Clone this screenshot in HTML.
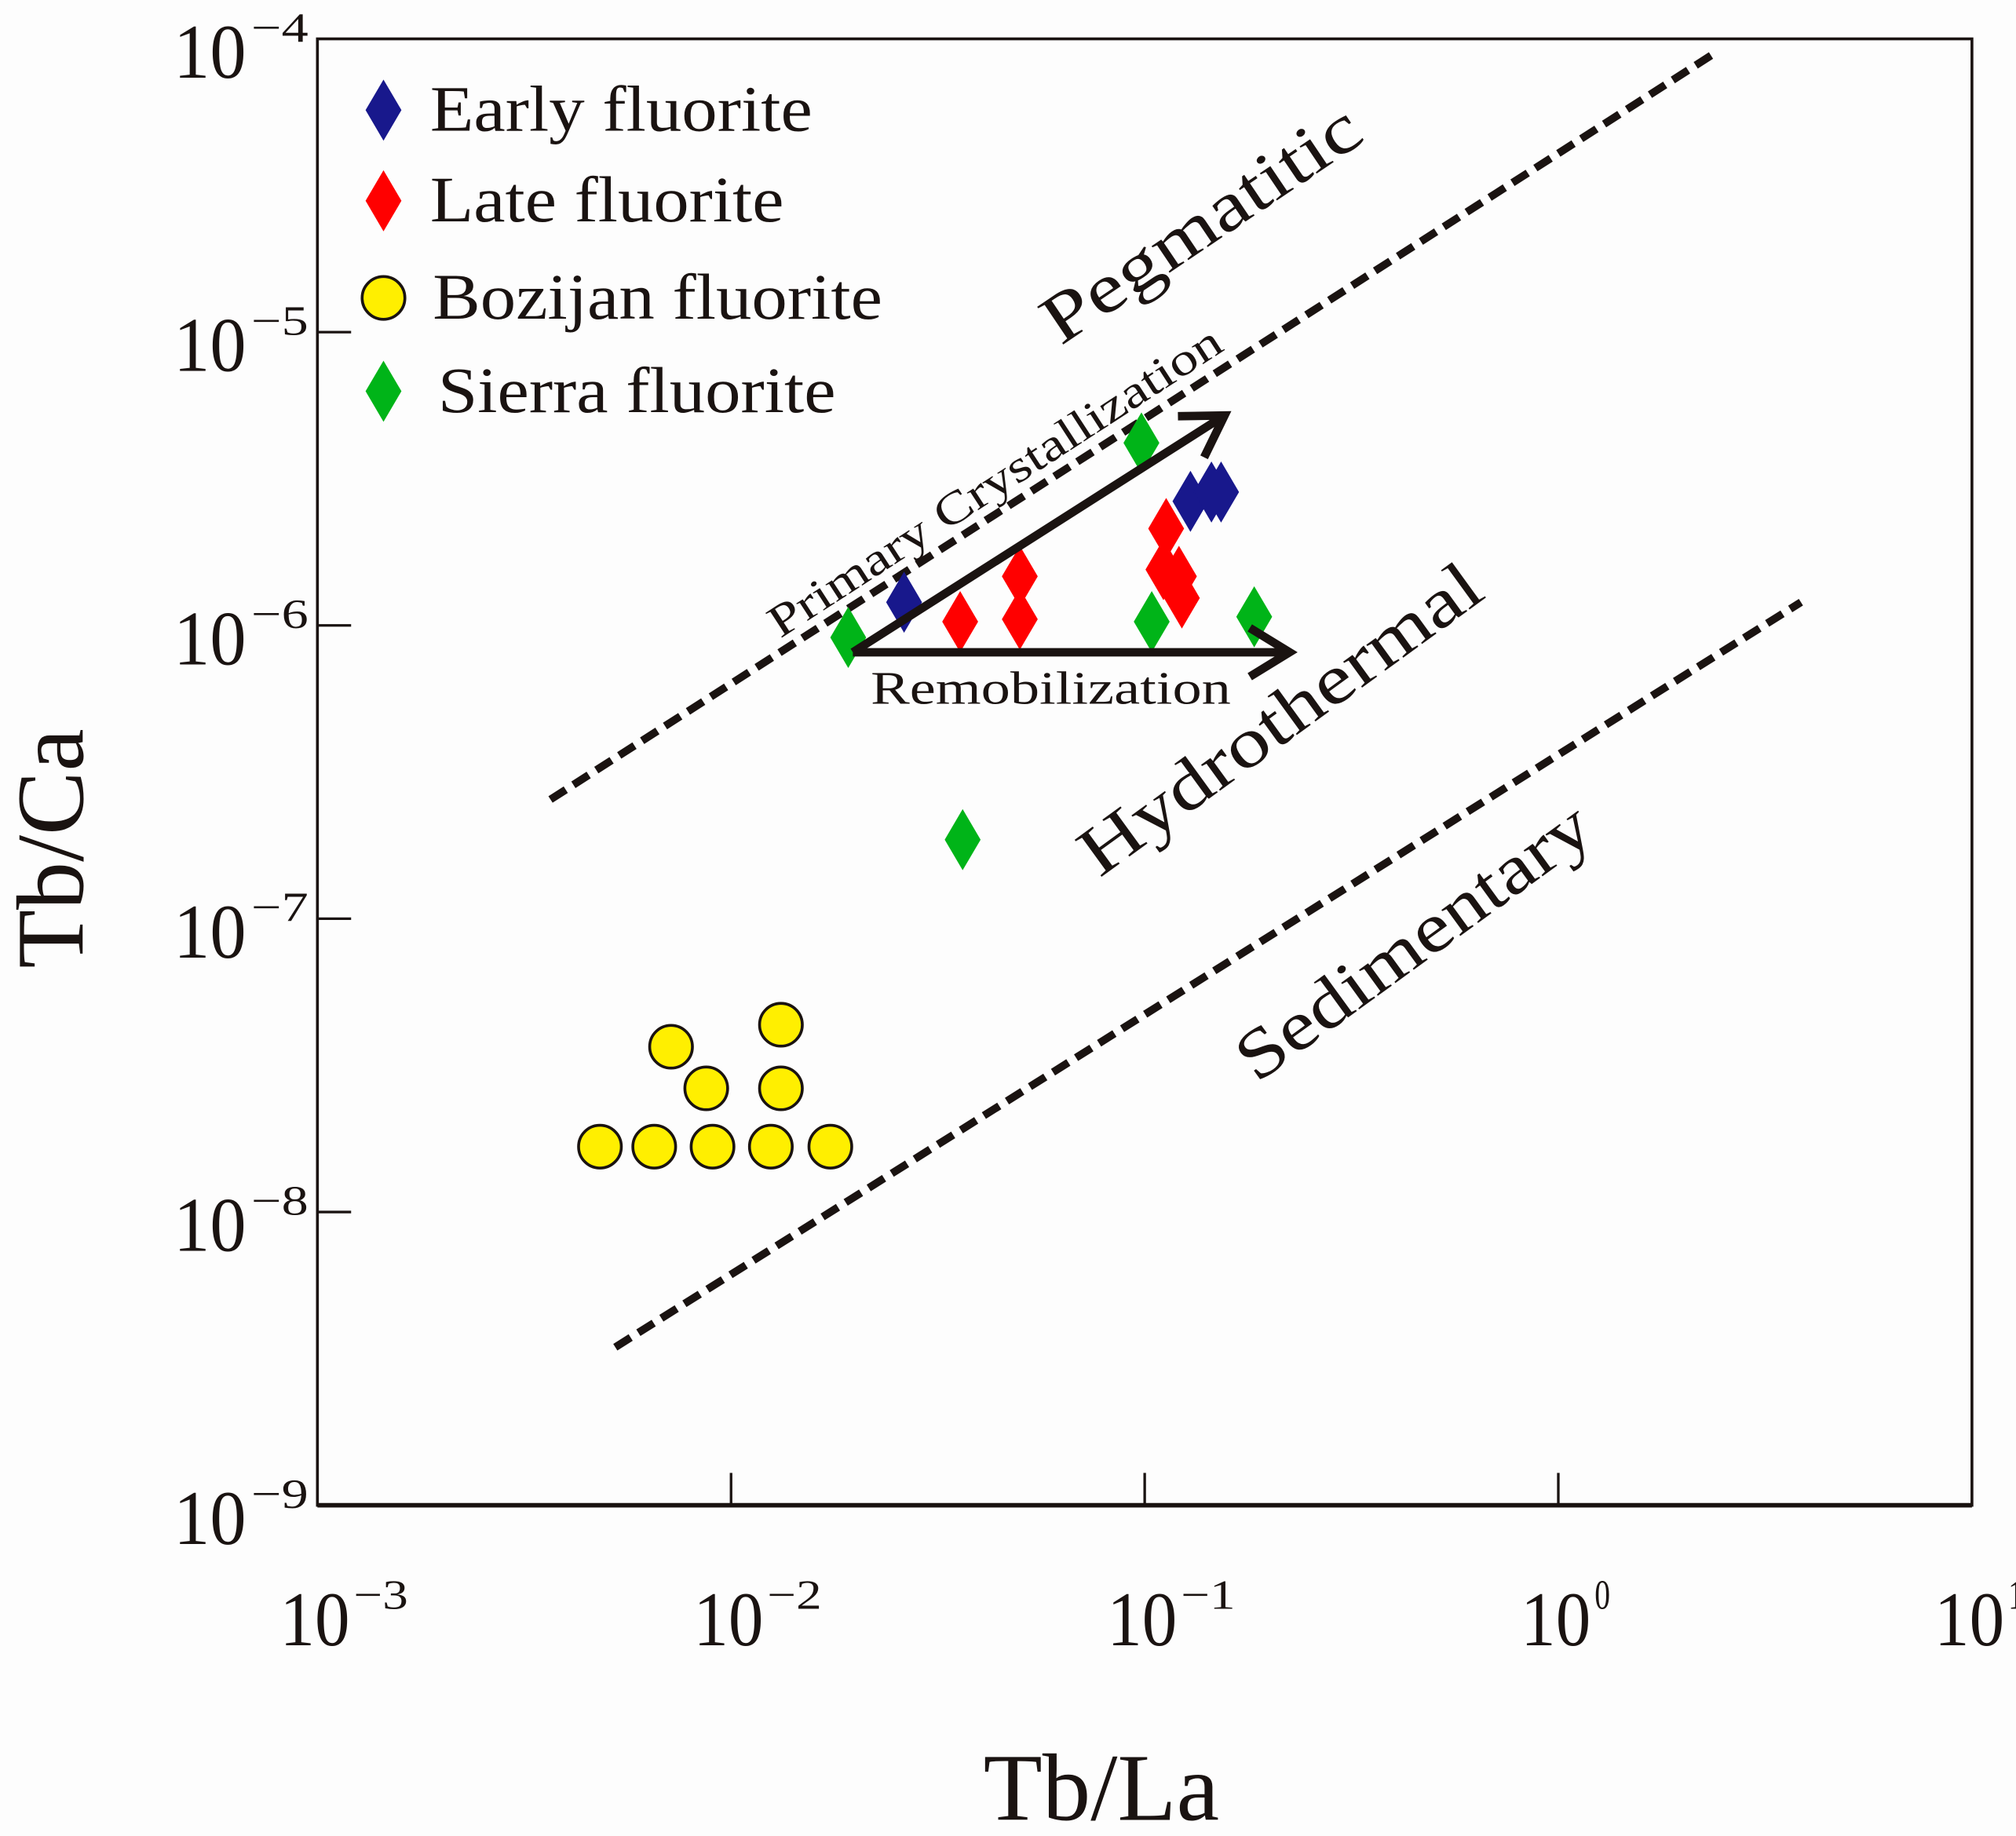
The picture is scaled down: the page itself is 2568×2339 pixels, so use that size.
<!DOCTYPE html>
<html><head><meta charset="utf-8"><style>
html,body{margin:0;padding:0;background:#fdfdfd;}
svg{display:block;font-family:"Liberation Serif",serif;}
</style></head><body>
<svg id="chart" width="2568" height="2339" viewBox="0 0 1556 1417.3" preserveAspectRatio="none" xmlns="http://www.w3.org/2000/svg">
<rect x="0" y="0" width="1556" height="1417.3" fill="#fdfdfd"/>
<g id="plot"></g>
</svg>
<script>
const xTicks = [-3, -2, -1, 0, 1];
const yTicks = [-4, -5, -6, -7, -8, -9];
const earlyX = [0.0262, 0.129, 0.145, 0.153];
const earlyY = [1.2e-6, 2.65e-6, 2.85e-6, 2.85e-6];
const lateX = [0.0358, 0.0499, 0.0499, 0.1127, 0.111, 0.121, 0.123];
const lateY = [1.03e-6, 1.47e-6, 1.05e-6, 2.14e-6, 1.55e-6, 1.47e-6, 1.24e-6];
const sierraX = [0.0192, 0.0982, 0.104, 0.184, 0.0363];
const sierraY = [9.1e-7, 4.19e-6, 1.03e-6, 1.07e-6, 1.86e-7];
const bozX = [0.00482, 0.00652, 0.00902, 0.01248, 0.01738, 0.00716, 0.00871, 0.0132, 0.0132];
const bozY = [1.67e-8, 1.67e-8, 1.67e-8, 1.67e-8, 1.67e-8, 3.66e-8, 2.64e-8, 4.35e-8, 2.64e-8];
const boundaryUpperX = [0.00366, 2.415];
const boundaryUpperY = [2.55e-7, 9.03e-5];
const boundaryLowerX = [0.00525, 3.86];
const boundaryLowerY = [3.46e-9, 1.2e-6];
const arrowPrimaryX = [0.0197, 0.156];
const arrowPrimaryY = [8.1e-7, 5.2e-6];
const arrowRemobX = [0.0197, 0.224];
const arrowRemobY = [8.1e-7, 8.1e-7];

const L = 245, R = 1522, T = 30, B = 1162;
function sx(v){ return L + (Math.log10(v) + 3) / 4 * (R - L); }
function sy(v){ return T + (-4 - Math.log10(v)) / 5 * (B - T); }
function sxe(e){ return L + (e + 3) / 4 * (R - L); }
function sye(e){ return T + (-4 - e) / 5 * (B - T); }

const NS = "http://www.w3.org/2000/svg";
const g = document.getElementById('plot');
function mk(tag, attrs, parent){
  const el = document.createElementNS(NS, tag);
  for (const k in attrs) el.setAttribute(k, attrs[k]);
  (parent || g).appendChild(el);
  return el;
}

// frame
let el = mk('rect', {x:L, y:T, width:R-L, height:B-T, fill:'none', stroke:'#1a1311', 'stroke-width':2.2});


el = mk('line', {x1:L, x2:R, y1:B, y2:B, stroke:'#1a1311', 'stroke-width':3.5});



// y ticks + labels
yTicks.forEach(e => {
  const y = sye(e);
  if (e !== -4 && e !== -9) {
    let t = mk('line', {x1:L, x2:L+26, y1:y, y2:y, stroke:'#1a1311', 'stroke-width':2});
    
    
  }
  let tx = mk('text', {x:190, y:y+30, 'text-anchor':'end', 'font-size':60, fill:'#1a1311', textLength:56, lengthAdjust:'spacingAndGlyphs'});
  tx.textContent = '10';
  
  
  let sp = mk('text', {x:194, y:y+2, 'font-size':32, fill:'#1a1311', textLength:44, lengthAdjust:'spacingAndGlyphs'});
  sp.textContent = '\u2212' + Math.abs(e);
  
  
});

// x ticks + labels
xTicks.forEach(e => {
  const x = sxe(e);
  if (e !== -3 && e !== 1) {
    let t = mk('line', {x1:x, x2:x, y1:B, y2:B-25, stroke:'#1a1311', 'stroke-width':2});
    
    
  }
  let tx = mk('text', {x:x+25, y:1270, 'text-anchor':'end', 'font-size':60, fill:'#1a1311', textLength:54, lengthAdjust:'spacingAndGlyphs'});
  tx.textContent = '10';
  
  
  let sp = mk('text', {x:x+28, y:1242, 'font-size':32, fill:'#1a1311', textLength:e < 0 ? 42 : 12, lengthAdjust:'spacingAndGlyphs'});
  sp.textContent = e < 0 ? '\u2212' + Math.abs(e) : String(e);
  
  
});

// axis titles
let xt = mk('text', {x:850, y:1405, 'text-anchor':'middle', 'font-size':74, fill:'#1a1311', textLength:182, lengthAdjust:'spacingAndGlyphs'});
xt.textContent = 'Tb/La';


let yt = mk('text', {x:0, y:0, 'text-anchor':'middle', 'font-size':74, fill:'#1a1311', textLength:185, lengthAdjust:'spacingAndGlyphs', transform:'translate(64,655) rotate(-90)'});
yt.textContent = 'Tb/Ca';



// boundaries
let bu = mk('line', {x1:sx(boundaryUpperX[0]), y1:sy(boundaryUpperY[0]), x2:sx(boundaryUpperX[1]), y2:sy(boundaryUpperY[1]), stroke:'#1a1311', 'stroke-width':6, 'stroke-dasharray':'14 7'});


let bl = mk('line', {x1:sx(boundaryLowerX[0]), y1:sy(boundaryLowerY[0]), x2:sx(boundaryLowerX[1]), y2:sy(boundaryLowerY[1]), stroke:'#1a1311', 'stroke-width':6, 'stroke-dasharray':'14 7'});



// region labels
function rlabel(txt, cx, cy, size, len, ang){
  const t = mk('text', {x:0, y:0, 'text-anchor':'middle', 'dominant-baseline':'central', 'font-size':size, fill:'#1a1311', textLength:len, lengthAdjust:'spacingAndGlyphs', transform:`translate(${cx},${cy}) rotate(${ang})`});
  t.textContent = txt;
  return t;
}
el = rlabel('Pegmatitic', 927, 173, 54, 285, -34);


el = rlabel('Hydrothermal', 988, 555, 54, 370, -36);


el = rlabel('Sedimentary', 1091, 727, 54, 325, -36);


el = rlabel('Primary Crystallization', 768, 372, 35, 410, -33);


el = rlabel('Remobilization', 811, 531, 36, 278, 0);



// markers
function diamond(x, y, color){
  return mk('path', {d:`M${x} ${y-23} L${x+13.5} ${y} L${x} ${y+23} L${x-13.5} ${y} Z`, fill:color, stroke:color, 'stroke-width':0.6});
}
bozX.forEach((v,i) => {
  const c = mk('circle', {cx:sx(v), cy:sy(bozY[i]), r:16.5, fill:'#ffef00', stroke:'#1a1311', 'stroke-width':2.2});
  
  
});
sierraX.forEach((v,i) => {
  const d = diamond(sx(v), sy(sierraY[i]), '#00b418');
  
  
});
lateX.forEach((v,i) => {
  const d = diamond(sx(v), sy(lateY[i]), '#ff0000');
  
  
});
earlyX.forEach((v,i) => {
  const d = diamond(sx(v), sy(earlyY[i]), '#18188c');
  
  
});

// arrows
function arrow(x1,y1,x2,y2){
  const a = Math.atan2(y2-y1, x2-x1), h = 36, w = 0.55;
  const p1 = [x2 - h*Math.cos(a-w), y2 - h*Math.sin(a-w)];
  const p2 = [x2 - h*Math.cos(a+w), y2 - h*Math.sin(a+w)];
  return mk('path', {d:`M${x1} ${y1} L${x2} ${y2} M${p1[0]} ${p1[1]} L${x2} ${y2} L${p2[0]} ${p2[1]}`, fill:'none', stroke:'#1a1311', 'stroke-width':6.5, 'stroke-linejoin':'miter'});
}
el = arrow(sx(arrowPrimaryX[0]), sy(arrowPrimaryY[0]), sx(arrowPrimaryX[1]), sy(arrowPrimaryY[1]));


el = arrow(sx(arrowRemobX[0]), sy(arrowRemobY[0]), sx(arrowRemobX[1]), sy(arrowRemobY[1]));



// legend
const legNames = ['Early fluorite', 'Late fluorite', 'Bozijan fluorite', 'Sierra fluorite'];
const legY = [85, 155, 230, 302];
const legLen = [295, 273, 347, 307];
const legTx = [332, 332, 334, 338];
legNames.forEach((n,i) => {
  let m;
  if (i === 2) m = mk('circle', {cx:296, cy:legY[i], r:16.5, fill:'#ffef00', stroke:'#1a1311', 'stroke-width':2.2});
  else m = diamond(296, legY[i], ['#18188c','#ff0000',null,'#00b418'][i]);
  
  
  const t = mk('text', {x:legTx[i], y:legY[i]+16, 'font-size':50, fill:'#1a1311', textLength:legLen[i], lengthAdjust:'spacingAndGlyphs'});
  t.textContent = n;
  
  
});
</script>
</body></html>
